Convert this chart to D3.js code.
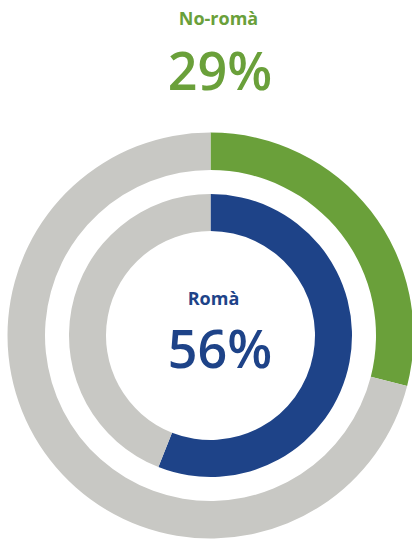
<!DOCTYPE html>
<html>
<head>
<meta charset="utf-8">
<script src="https://cdn.jsdelivr.net/npm/d3@7"></script>
<style>
  body { margin: 0; background: #fff; }
  text { font-family: "Open Sans", sans-serif; font-weight: 600; }
</style>
</head>
<body>
<script>
// ring data (outer ring first)
var labels = ["No-romà", "Romà"];
var values = [29, 56];
var colors = ["#6aa03a", "#1e4388"];
var restColor = "#c8c8c4";

var width = 412, height = 539;
var cx = 210.5, cy = 335.5;

// radii for each ring [inner, outer]
var rings = [[165.5, 203], [104.5, 141.5]];

var svg = d3.select("body").append("svg")
    .attr("width", width)
    .attr("height", height);

var g = svg.append("g")
    .attr("transform", "translate(" + cx + "," + cy + ")");

var pie = d3.pie().sort(null);

values.forEach(function(v, i) {
    var arc = d3.arc()
        .innerRadius(rings[i][0])
        .outerRadius(rings[i][1]);
    var slices = pie([v, 100 - v]);
    g.selectAll(".ring" + i)
        .data(slices)
        .enter().append("path")
        .attr("class", "ring" + i)
        .attr("d", arc)
        .style("fill", function(d, j) { return j == 0 ? colors[i] : restColor; });
});

// label for outer ring, above the chart
svg.append("text")
    .attr("x", 218.5).attr("y", 25)
    .style("text-anchor", "middle")
    .style("font-size", "18px")
    .style("font-weight", 700)
    .style("fill", colors[0])
    .text(labels[0]);
svg.append("text")
    .attr("x", 220).attr("y", 90)
    .style("text-anchor", "middle")
    .style("font-size", "52px")
    .style("fill", colors[0])
    .text(values[0] + "%");

// label for inner ring, in the middle
svg.append("text")
    .attr("x", 213.5).attr("y", 305)
    .style("text-anchor", "middle")
    .style("font-size", "18px")
    .style("font-weight", 700)
    .style("fill", colors[1])
    .text(labels[1]);
svg.append("text")
    .attr("x", 220).attr("y", 368)
    .style("text-anchor", "middle")
    .style("font-size", "52px")
    .style("fill", colors[1])
    .text(values[1] + "%");
</script>
</body>
</html>
